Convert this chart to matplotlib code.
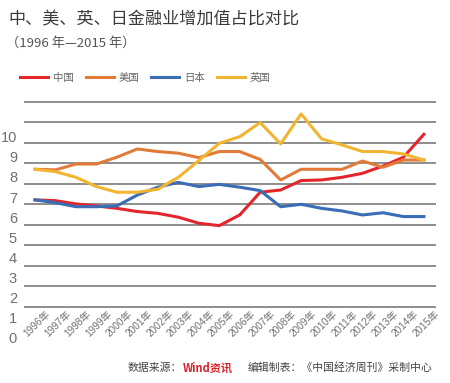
import matplotlib
matplotlib.use("Agg")
import matplotlib.pyplot as plt
import matplotlib.transforms as mtransforms

plt.rcParams['font.family'] = ['Noto Sans CJK SC', 'DejaVu Sans']

years = [str(y) + '年' for y in range(1996, 2016)]
china = [6.86, 6.82, 6.66, 6.56, 6.44, 6.28, 6.19, 6.0, 5.70, 5.58,
         6.11, 7.24, 7.35, 7.82, 7.85, 7.98, 8.18, 8.54, 8.98, 10.12]
usa = [8.38, 8.35, 8.64, 8.64, 8.98, 9.39, 9.26, 9.18, 8.96, 9.26,
       9.26, 8.87, 7.85, 8.38, 8.38, 8.38, 8.79, 8.48, 8.84, 8.84]
japan = [6.86, 6.72, 6.52, 6.52, 6.56, 7.10, 7.49, 7.73, 7.52, 7.63,
         7.49, 7.32, 6.52, 6.64, 6.44, 6.31, 6.11, 6.22, 6.03, 6.03]
uk = [8.38, 8.26, 7.98, 7.52, 7.24, 7.24, 7.39, 7.98, 8.81, 9.67,
      10.0, 10.7, 9.64, 11.13, 9.89, 9.59, 9.26, 9.26, 9.14, 8.84]
names = ['中国', '美国', '日本', '英国']
colors = ['#e3262b', '#e07b39', '#3a6db5', '#f2b531']
ytick_vals = list(range(11))

W, H = 450, 383
fig = plt.figure(figsize=(4.5, 3.83), dpi=100)
# axes in pixel terms: x 24..436, y 95..345 (from top)
ax = fig.add_axes([24 / W, 1 - 345 / H, (436 - 24) / W, (345 - 95) / H])
ax.set_xlim(-0.54, 19.59)
ax.set_ylim(-0.35, 12.07)
for s in ax.spines.values():
    s.set_visible(False)

# gridlines sit a bit off the printed labels in the original
grid_pos = [(338 - (307 - 20.5 * j)) / 20.13 for j in range(11)]
for g in grid_pos:
    ax.axhline(g, color='#858585', lw=1.3, zorder=1)

x = list(range(len(years)))
lines = []
for vals, c, n in zip([china, usa, japan, uk], colors, names):
    ln, = ax.plot(x, vals, color=c, lw=2.2, label=n, zorder=3,
                  solid_joinstyle='round')
    lines.append(ln)

ax.set_xticks([])
ax.set_yticks(ytick_vals)
ax.set_yticklabels([str(v) for v in ytick_vals], fontsize=10.5, color='#707070',
                   family='Liberation Sans')
ax.tick_params(axis='y', length=0, pad=5)

off = mtransforms.ScaledTranslation(10 / 100, 0, fig.dpi_scale_trans)
for i, lab in enumerate(years):
    ax.text(i, (338 - 309) / 20.13, lab, rotation=45, rotation_mode='anchor',
            ha='right', va='top', fontsize=7.2, color='#707070',
            family=['Liberation Sans', 'Noto Sans CJK SC'],
            transform=ax.transData + off)

fig.text(8 / W, 1 - 19 / H, '中、美、英、日金融业增加值占比对比', fontsize=12.3,
         color='#3a3a3a', va='center', ha='left')
fig.text(6 / W, 1 - 43 / H, '（1996 年—2015 年）', fontsize=9.5,
         color='#555555', va='center', ha='left')

fig.legend(handles=lines, loc='center left', bbox_to_anchor=(20 / W, 1 - 78 / H),
           ncol=4, frameon=False, fontsize=7.5, handlelength=2.7,
           handletextpad=0.5, columnspacing=1.1, borderpad=0, borderaxespad=0,
           labelcolor='#666666')

fig.text(128 / W, 1 - 368 / H, '数据来源：', fontsize=7.8, color='#444444',
         va='center', ha='left')
fig.text(183 / W, 1 - 368 / H, 'Wind资讯', fontsize=8, color='#d9232a',
         va='center', ha='left', fontweight='bold', style='italic')
fig.text(248 / W, 1 - 368 / H, '编辑制表：《中国经济周刊》采制中心', fontsize=7.8,
         color='#444444', va='center', ha='left')

fig.savefig('out.png', dpi=100, facecolor='white')
